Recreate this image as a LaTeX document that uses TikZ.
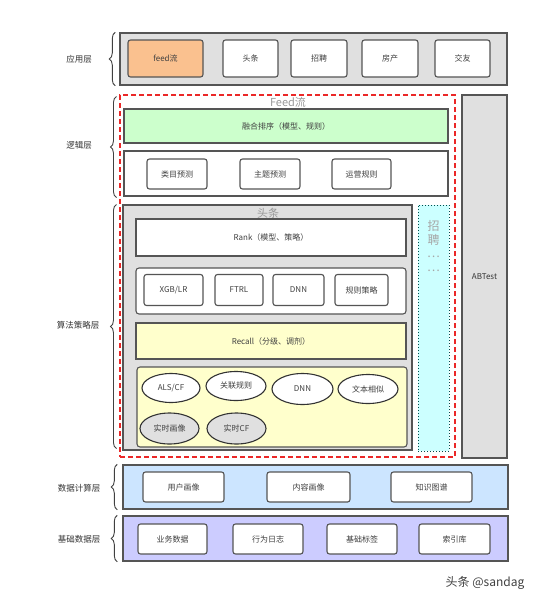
\documentclass[tikz,border=0pt]{standalone}
\usepackage{fontspec}
\setmainfont{Noto Sans CJK SC}
\usetikzlibrary{shapes.geometric,decorations.pathreplacing,positioning}

\definecolor{layergray}{RGB}{224,224,224}
\definecolor{feedorange}{RGB}{250,193,143}
\definecolor{fusegreen}{RGB}{204,255,204}
\definecolor{recallyellow}{RGB}{255,255,204}
\definecolor{jobcyan}{RGB}{204,255,255}
\definecolor{datablue}{RGB}{204,229,255}
\definecolor{basepurple}{RGB}{204,204,255}
\definecolor{edge}{RGB}{85,85,85}
\definecolor{feedred}{RGB}{235,40,40}

\begin{document}
\begin{tikzpicture}[
  x=1pt,y=-1pt,
  font=\fontsize{8}{10}\selectfont,
  layer/.style={draw=edge, line width=1.4pt, fill=layergray, inner sep=0pt},
  item/.style={draw=edge, line width=1.1pt, rounded corners=2.5pt, fill=white, minimum height=30pt, inner sep=0pt, text=black!75},
  bar/.style={draw=edge, line width=1.1pt, fill=white, inner sep=0pt, text=black!75},
  holder/.style={draw=edge, line width=1.1pt, rounded corners=3pt, fill=white, inner sep=0pt},
  oval/.style={ellipse, draw=black!80, line width=1.1pt, fill=white, inner sep=0pt, minimum width=59pt, minimum height=29pt, text=black!75},
  layerbrace/.style={decorate, decoration={brace, amplitude=6pt}, draw=black!75, line width=0.9pt},
  layername/.style={font=\fontsize{8.5}{10}\selectfont, text=black!80},
  tag/.style={text=black!40, font=\fontsize{11}{12}\selectfont}
]
\useasboundingbox (0,0) rectangle (550,603);

% ================= application layer =================
\node[layer, minimum width=387pt, minimum height=52pt] (app) at (313.5,59) {};
\node[item, fill=feedorange, minimum width=75pt, minimum height=37pt] (feedapp) at (165.5,58.5) {feed流};
\node[item, minimum width=55pt, minimum height=37pt] (toutiaoapp) at (250.5,58.5) {头条};
\node[item, minimum width=56pt, minimum height=37pt] (jobapp) at (319,58.5) {招聘};
\node[item, minimum width=56pt, minimum height=37pt] (houseapp) at (390,58.5) {房产};
\node[item, minimum width=55pt, minimum height=37pt] (friendapp) at (462.5,58.5) {交友};

% ================= feed flow (logic + algorithm) =================
\node[draw=feedred, line width=1.1pt, dash pattern=on 5pt off 3pt, minimum width=335pt, minimum height=362pt, inner sep=0pt] (feed) at (287.5,276) {};
\node[tag] (feedtag) at (288,102) {Feed流};

\node[bar, fill=fusegreen, minimum width=324pt, minimum height=34pt] (fuse) at (286,126) {融合排序（模型、规则）};
\node[bar, minimum width=324pt, minimum height=45pt] (logic) at (286,173.5) {};
\node[item, minimum width=60pt] (category) at (177,174) {类目预测};
\node[item, minimum width=60pt] (topic) at (270,174) {主题预测};
\node[item, minimum width=59pt] (operate) at (361.5,174) {运营规则};

% toutiao algorithm block
\node[layer, line width=1.1pt, minimum width=289pt, minimum height=245pt] (toutiao) at (267.5,327.5) {};
\node[tag] (toutiaotag) at (268,213) {头条};

\node[bar, minimum width=270pt, minimum height=37pt] (rank) at (271,237.5) {Rank（模型、策略）};
\node[holder, minimum width=270pt, minimum height=46pt] (models) at (271,291) {};
\node[item, minimum width=59pt, minimum height=31pt] (xgb) at (173.5,290) {XGB/LR};
\node[item, minimum width=48pt, minimum height=31pt] (ftrl) at (239,290) {FTRL};
\node[item, minimum width=51pt, minimum height=31pt] (dnnrank) at (298.5,290) {DNN};
\node[item, minimum width=53pt, minimum height=31pt] (rulepolicy) at (361.5,290) {规则策略};

\node[bar, fill=recallyellow, minimum width=270pt, minimum height=36pt] (recall) at (271,341) {Recall（分级、调剂）};
\node[holder, fill=recallyellow, minimum width=270pt, minimum height=80pt] (recalls) at (272,407) {};
\node[oval, minimum width=58pt] (alscf) at (171,388) {ALS/CF};
\node[oval, minimum width=60pt] (assoc) at (236,386) {关联规则};
\node[oval, minimum width=61pt, minimum height=31pt] (dnnrecall) at (302.5,389) {DNN};
\node[oval, minimum width=60pt] (textsim) at (368,389) {文本相似};
\node[oval, fill=layergray, minimum height=31pt] (rtprofile) at (169.5,428.5) {实时画像};
\node[oval, fill=layergray, minimum height=31pt] (rtcf) at (236.5,428.5) {实时CF};

% job block
\node[draw=teal!60!black, line width=1pt, dotted, fill=jobcyan, minimum width=31pt, minimum height=246pt, inner sep=0pt] (job) at (433.5,328) {};
\node[text=black!35, font=\fontsize{12}{13.5}\selectfont, align=center, anchor=north] (jobtag) at (433.5,217) {招\\聘\\…\\…};

% ABTest
\node[layer, line width=1.1pt, minimum width=45pt, minimum height=363pt, text=black!80] (abtest) at (484.5,276.5) {ABTest};

% ================= data layers =================
\node[layer, fill=datablue, minimum width=385pt, minimum height=44pt] (compute) at (315.5,487) {};
\node[item, minimum width=81pt] (userprofile) at (183.5,487) {用户画像};
\node[item, minimum width=83pt] (itemprofile) at (308.5,487) {内容画像};
\node[item, minimum width=81pt] (graph) at (431.5,487) {知识图谱};

\node[layer, fill=basepurple, minimum width=385pt, minimum height=45pt] (base) at (315.5,538.5) {};
\node[item, minimum width=69pt] (business) at (172.5,539) {业务数据};
\node[item, minimum width=70pt] (behavior) at (268,539) {行为日志};
\node[item, minimum width=70pt] (basetag) at (362,539) {基础标签};
\node[item, minimum width=71pt] (index) at (454.5,539) {索引库};

% ================= braces and layer names =================
\draw[layerbrace] ([xshift=-4pt]app.south west) -- ([xshift=-4pt]app.north west);
\draw[layerbrace] ([xshift=-7pt,yshift=-1pt]logic.south west) -- ([xshift=-7pt,yshift=12pt]fuse.north west);
\draw[layerbrace] ([xshift=-6pt,yshift=2pt]toutiao.south west) -- ([xshift=-6pt]toutiao.north west);
\draw[layerbrace] ([xshift=-5pt]compute.south west) -- ([xshift=-5pt]compute.north west);
\draw[layerbrace] ([xshift=-5pt]base.south west) -- ([xshift=-5pt]base.north west);

\node[layername] (appname) at (79,59) {应用层};
\node[layername] (logicname) at (79,145) {逻辑层};
\node[layername] (algoname) at (78,325) {算法策略层};
\node[layername] (computename) at (79,488) {数据计算层};
\node[layername] (basename) at (79,539) {基础数据层};

\node[text=black!75, font=\fontsize{12}{14}\selectfont] (mark) at (485,583) {头条 @sandag};
\end{tikzpicture}
\end{document}
